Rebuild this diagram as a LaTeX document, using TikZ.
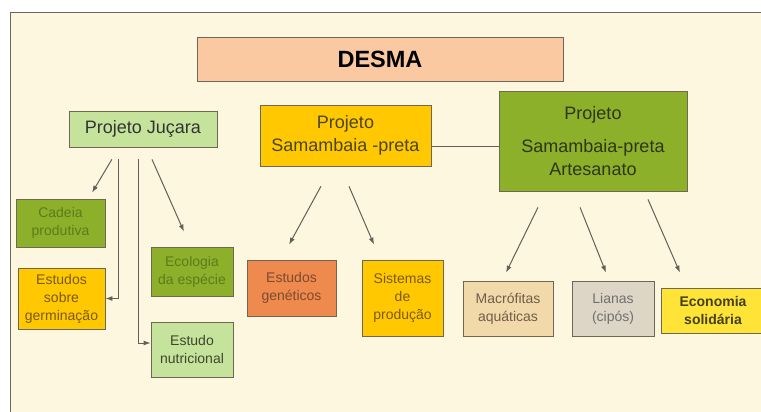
\documentclass[tikz,border=0pt]{standalone}
\usepackage{fontspec}
\setmainfont{Liberation Sans}
\usetikzlibrary{arrows.meta}

\definecolor{bgcream}{HTML}{FEF7DF}
\definecolor{boxline}{HTML}{6E6656}
\definecolor{arrowgray}{HTML}{626058}
\definecolor{desmafill}{HTML}{FAC9A2}
\definecolor{lightgreen}{HTML}{C6E39C}
\definecolor{olive}{HTML}{8CB02A}
\definecolor{gold}{HTML}{FFC800}
\definecolor{coral}{HTML}{EE8A4E}
\definecolor{tan}{HTML}{F1D9A9}
\definecolor{greige}{HTML}{DDD5C6}
\definecolor{lemon}{HTML}{FFE337}
\definecolor{txtolive}{HTML}{5B7C1C}
\definecolor{txtdark}{HTML}{2E3618}
\definecolor{txtbrown}{HTML}{7A5A12}
\definecolor{txtrust}{HTML}{7E4A2E}
\definecolor{txttan}{HTML}{6E5E4C}
\definecolor{txtgray}{HTML}{707070}

\tikzset{
  box/.style={draw=boxline, line width=0.8pt, inner sep=0pt, align=center},
  big/.style={font=\fontsize{18}{23}\selectfont},
  small/.style={font=\fontsize{14}{18}\selectfont},
  arr/.style={draw=arrowgray, line width=1pt, -{Latex[length=7pt,width=5pt]}},
  link/.style={draw=arrowgray, line width=1pt},
}

\begin{document}
\begin{tikzpicture}[x=1pt,y=-1pt]
\useasboundingbox (0,0) rectangle (761,412);
\clip (0,0) rectangle (761,412);
\fill[bgcream] (10,13) rectangle (770,420);
\draw[boxline, line width=1pt] (10,420) -- (10,13) -- (770,13);

% top and projects
\node[box, fill=desmafill, minimum width=366, minimum height=44,
      font=\fontsize{23.5}{26}\selectfont\bfseries] (desma) at (380,59) {DESMA};
\node[box, big, fill=lightgreen, text=black!80, minimum width=148, minimum height=36] (jucara) at (143,129) {Projeto Juçara};
\node[box, big, fill=gold, text=txtdark!80!brown, minimum width=171, minimum height=61] (samb) at (345.5,135.5) {Projeto\\Samambaia -preta};
\node[box, big, fill=olive, text=txtdark, minimum width=188, minimum height=100] (artes) at (593,141) {Projeto\\[10pt]Samambaia-preta\\Artesanato};

% Jucara branch
\node[box, small, fill=olive, text=txtolive, minimum width=89, minimum height=48] (cadeia) at (60.5,223) {Cadeia\\produtiva};
\node[box, small, fill=gold, text=txtbrown, minimum width=87, minimum height=61] (germ) at (61.5,298.5) {Estudos\\sobre\\germinação};
\node[box, small, fill=olive, text=txtolive, minimum width=82, minimum height=49] (ecol) at (192,271.5) {Ecologia\\da espécie};
\node[box, small, fill=lightgreen, text=txtdark!80!gray, minimum width=82, minimum height=55] (nutri) at (192,349.5) {Estudo\\nutricional};

% Samambaia branch
\node[box, small, fill=coral, text=txtrust, minimum width=89, minimum height=56] (genet) at (291.5,288) {Estudos\\genéticos};
\node[box, small, fill=gold, text=txtbrown, minimum width=81, minimum height=76] (sist) at (402.5,298) {Sistemas\\de\\produção};

% Artesanato branch
\node[box, small, fill=tan, text=txttan, minimum width=90, minimum height=55] (macro) at (508,308.5) {Macrófitas\\aquáticas};
\node[box, small, fill=greige, text=txtgray, minimum width=82, minimum height=55] (lianas) at (613,308.5) {Lianas\\(cipós)};
\node[box, fill=lemon, text=txtdark!85!brown, minimum width=104, minimum height=45,
      font=\fontsize{14}{18}\selectfont\bfseries] (econ) at (713,310.5) {Economia\\solidária};

% connectors
\draw[link] (samb.east |- 0,146) -- (artes.west |- 0,146);
\foreach \from/\xa/\to/\xb/\s/\e in {jucara/119/cadeia/88.5/13.9/7,
    jucara/146.7/ecol/190.6/13.1/16.4,
    samb/331.8/genet/280.9/22.7/17.1, samb/340.5/sist/380.4/21.7/16.3,
    artes/545.8/macro/502.1/17.8/8.9, artes/573.7/lianas/609.2/17.2/8.6,
    artes/644.5/econ/686.5/8.7/16.3}
  \draw[arr, shorten <=\s pt, shorten >=\e pt] (\from.south -| \xa,0) -- (\to.north -| \xb,0);
\draw[arr, shorten <=12pt] (jucara.south -| 118,0) |- (germ.east);
\draw[arr, shorten <=12pt] (jucara.south -| 138,0) |- ([yshift=6.5pt]nutri.west);
\end{tikzpicture}
\end{document}
